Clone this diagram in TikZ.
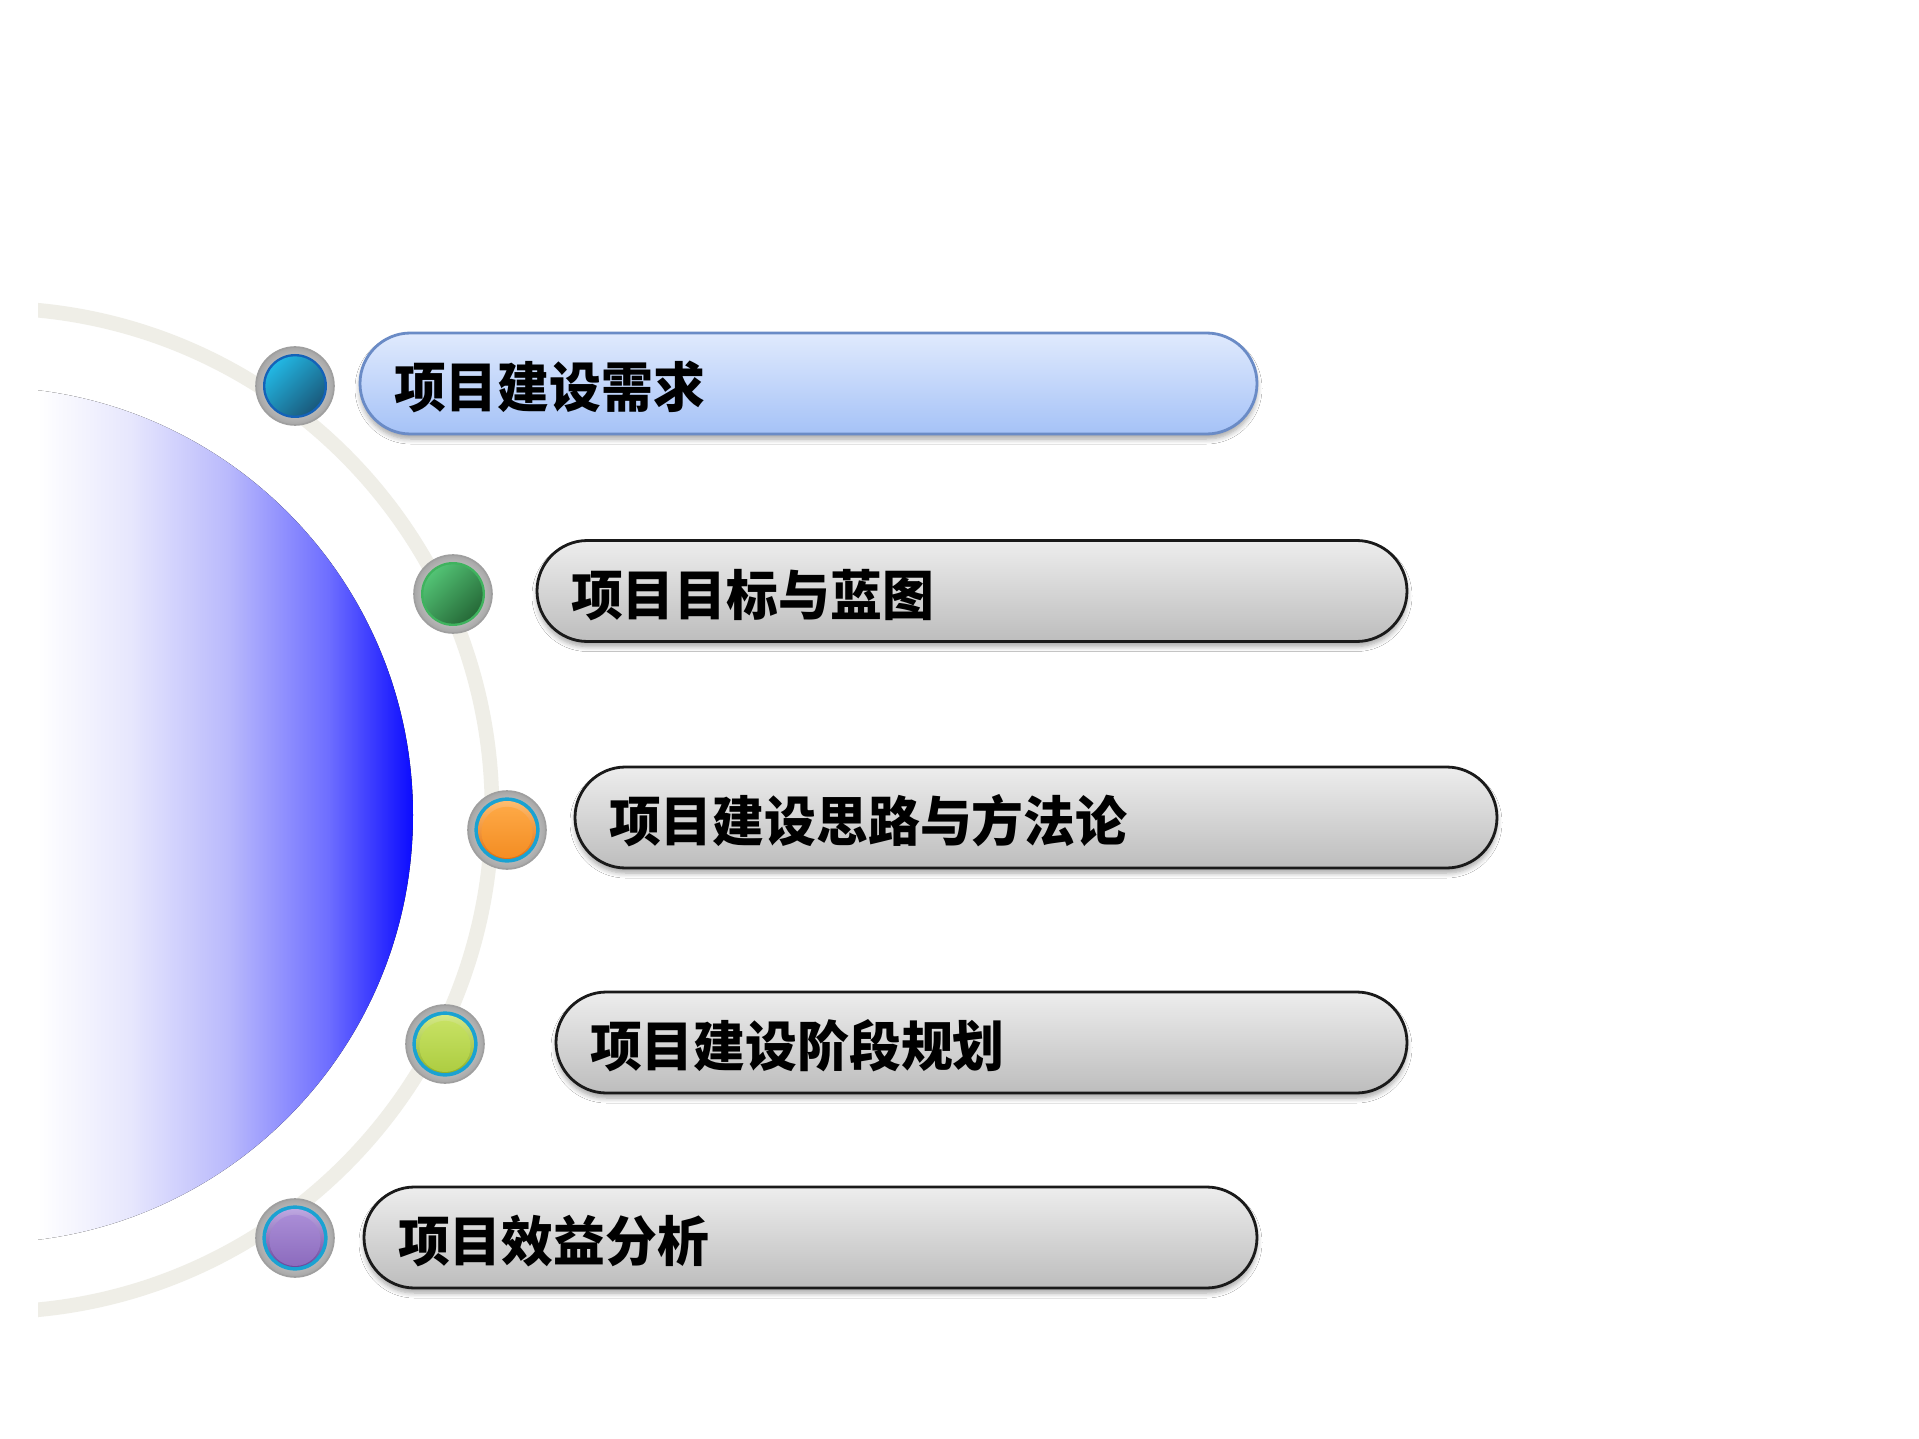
\documentclass[tikz,border=0pt]{standalone}
\usepackage{fontspec}
\newfontfamily\cjk{Noto Sans CJK SC}[FakeStretch=0.96]
\usetikzlibrary{shadows.blur}
\definecolor{arcgray}{HTML}{EFEEE7}
\definecolor{dA}{HTML}{FFFFFF}
\definecolor{dB}{HTML}{E6E6FD}
\definecolor{dC}{HTML}{B8B8FC}
\definecolor{dD}{HTML}{6C6CFF}
\definecolor{dE}{HTML}{0A0AFF}
\definecolor{bluetop}{HTML}{E0EAFD}
\definecolor{bluebot}{HTML}{A5C2F7}
\definecolor{blueedge}{HTML}{6A8BC6}
\definecolor{graytop}{HTML}{EDEDED}
\definecolor{graybot}{HTML}{BDBDBD}
\definecolor{grayedge}{HTML}{1A1A1A}
\definecolor{rimblue}{HTML}{1AA2D2}
\definecolor{tealL}{HTML}{22B6E2}
\definecolor{tealD}{HTML}{1A5A7C}
\definecolor{tealR}{HTML}{1462B8}
\definecolor{greenL}{HTML}{52C274}
\definecolor{greenD}{HTML}{266A38}
\definecolor{greenR}{HTML}{3FB35E}
\definecolor{orangeL}{HTML}{FFA030}
\definecolor{orangeD}{HTML}{E27010}
\definecolor{limeL}{HTML}{C2E052}
\definecolor{limeD}{HTML}{8EB028}
\definecolor{purpL}{HTML}{A282D4}
\definecolor{purpD}{HTML}{6A489C}
\tikzset{
  pillbase/.style={rectangle, rounded corners=25.25pt, minimum height=50.5pt, inner ysep=0pt,
    inner xsep=17pt, align=left, font=\cjk\bfseries\fontsize{27pt}{30pt}\selectfont,
    text height=26pt, text depth=2pt,
    line width=1.4pt, blur shadow={shadow xshift=0pt, shadow yshift=-2.5pt, shadow blur steps=6, shadow blur radius=2.5pt, shadow opacity=35}},
  bluepill/.style={pillbase, draw=blueedge, top color=bluetop, bottom color=bluebot},
  graypill/.style={pillbase, draw=grayedge, top color=graytop, bottom color=graybot},
  ringball/.style={circle, minimum size=39pt, inner sep=0pt, draw=gray!75, line width=0.8pt,
    inner color=white, outer color=gray!70},
  ballflat/.style n args={3}{ringball, path picture={
    \fill[#3] (path picture bounding box.center) circle[radius=16pt];
    \shade[shading=axis, top color=#1, bottom color=#2, shading angle=45]
      (path picture bounding box.center) circle[radius=14.8pt];}},
  ballgloss/.style n args={2}{ringball, path picture={
    \fill[rimblue] (path picture bounding box.center) circle[radius=16.3pt];
    \shade[top color=#1!70!white, bottom color=#2] (path picture bounding box.center) circle[radius=14.5pt];
    \fill[#1, opacity=0.6] ([yshift=-1.2pt]path picture bounding box.center) circle[radius=12.8pt];}},
}
\begin{document}
\begin{tikzpicture}[x=0.5pt, y=-0.5pt]
\useasboundingbox (0,0) rectangle (1919,1439);
\fill[white] (0,0) rectangle (1919,1439);
% left disk and arc
\begin{scope}
  \clip (38,0) rectangle (1919,1439);
  \begin{scope}
    \clip (-15,815) circle[radius=214pt];
    \fill[left color=dA, right color=dB] (38,370) rectangle (133,1260);
    \fill[left color=dB, right color=dC] (132,370) rectangle (231,1260);
    \fill[left color=dC, right color=dD] (230,370) rectangle (331,1260);
    \fill[left color=dD, right color=dE] (330,370) rectangle (414,1260);
  \end{scope}
  \draw[arcgray, line width=7.3pt] (-10,810) circle[radius=251pt];
\end{scope}
% balls
\node[ballflat={tealL}{tealD}{tealR}] (b1) at (295,386) {};
\node[ballflat={greenL}{greenD}{greenR}] (b2) at (453,594) {};
\node[ballgloss={orangeL}{orangeD}] (b3) at (507,830) {};
\node[ballgloss={limeL}{limeD}] (b4) at (445,1044) {};
\node[ballgloss={purpL}{purpD}] (b5) at (295,1238) {};
% pills
\node[bluepill, text width=414.5pt] (p1) at (808.5,383.5) {项目建设需求};
\node[graypill, text width=401pt] (p2) at (972,591) {项目目标与蓝图};
\node[graypill, text width=427pt] (p3) at (1036,817.5) {项目建设思路与方法论};
\node[graypill, text width=391.5pt] (p4) at (981.5,1042.5) {项目建设阶段规划};
\node[graypill, text width=412.5pt] (p5) at (810.5,1237.5) {项目效益分析};
\end{tikzpicture}
\end{document}
